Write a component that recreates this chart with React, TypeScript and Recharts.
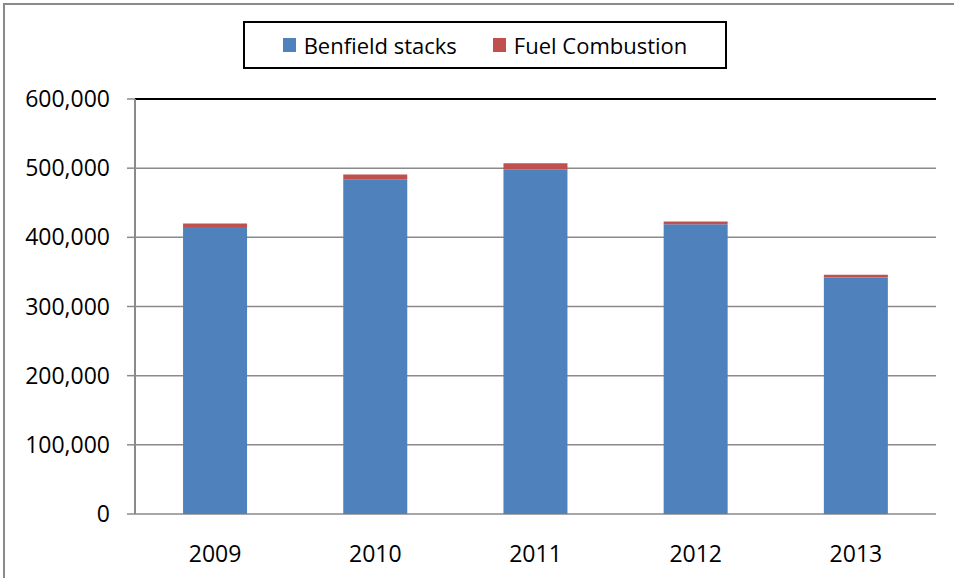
import { Bar, BarChart, CartesianGrid, Legend, ReferenceLine, XAxis, YAxis } from "recharts";

const years = ["2009", "2010", "2011", "2012", "2013"];
const benfieldStacks = [415000, 484000, 498500, 419000, 342000];
const fuelCombustion = [5000, 6800, 8500, 3800, 3800];
const yTicks = [0, 100000, 200000, 300000, 400000, 500000, 600000];
const edgeTicks = [0, 1, 2, 3, 4, 5];

const data = years.map((year, i) => ({
  year,
  benfield: benfieldStacks[i],
  fuel: fuelCombustion[i],
}));

const FONT = "'Open Sans', 'Noto Sans', sans-serif";

const renderLegend = (props: any) => {
  const { payload } = props;
  return (
    <div
      style={{
        display: "flex",
        justifyContent: "center",
        alignItems: "center",
        height: "100%",
        fontFamily: FONT,
        fontSize: 22,
        color: "#000",
      }}
    >
      {payload.map((entry: any, i: number) => (
        <div
          key={entry.value}
          style={{ display: "flex", alignItems: "center", marginLeft: i ? 36 : 0 }}
        >
          <span
            style={{
              display: "inline-block",
              width: 13,
              height: 14,
              background: entry.color,
              marginRight: 8,
            }}
          />
          <span>{entry.value}</span>
        </div>
      ))}
    </div>
  );
};

const App = () => {
  return (
    <div
      style={{
        position: "absolute",
        left: 0,
        top: 0,
        width: 954,
        height: 578,
        overflow: "hidden",
        background: "#fff",
      }}
    >
      <div
        style={{
          position: "absolute",
          left: 3,
          top: 3,
          width: 980,
          height: 620,
          border: "2px solid #8a8a8a",
        }}
      />
      <BarChart
        width={954}
        height={578}
        data={data}
        margin={{ top: 99, right: 18, bottom: 0, left: 0 }}
        barCategoryGap="30%"
        style={{ position: "absolute", left: 0, top: 0 }}
      >
        <CartesianGrid vertical={false} stroke="#8a8a8a" strokeWidth={1.5} />
        <XAxis
          xAxisId="edges"
          type="number"
          domain={[0, 5]}
          ticks={edgeTicks}
          height={0}
          tick={false}
          tickSize={8}
          tickLine={{ stroke: "#8a8a8a", strokeWidth: 1.5 }}
          axisLine={{ stroke: "#8a8a8a", strokeWidth: 2 }}
          allowDataOverflow
        />
        <XAxis
          dataKey="year"
          height={64}
          tickLine={false}
          axisLine={false}
          tickMargin={26}
          tick={{ fill: "#000", fontSize: 23, fontFamily: FONT }}
        />
        <YAxis
          width={135}
          domain={[0, 600000]}
          ticks={yTicks}
          interval={0}
          tickSize={8}
          tickMargin={17}
          tickFormatter={(v: number) => v.toLocaleString("en-US")}
          tickLine={{ stroke: "#8a8a8a", strokeWidth: 1.5 }}
          axisLine={{ stroke: "#8a8a8a", strokeWidth: 2 }}
          tick={{ fill: "#000", fontSize: 23, fontFamily: FONT }}
        />
        <ReferenceLine y={600000} stroke="#000" strokeWidth={2} />
        <ReferenceLine x={5} xAxisId="edges" stroke="#000" strokeWidth={2} />
        <Legend
          layout="horizontal"
          verticalAlign="middle"
          align="center"
          content={renderLegend}
          wrapperStyle={{
            position: "absolute",
            left: 243,
            top: 21,
            width: 484,
            height: 48,
            border: "2px solid #000",
            boxSizing: "border-box",
            background: "#fff",
          }}
        />
        <Bar
          dataKey="benfield"
          name="Benfield stacks"
          stackId="a"
          fill="#4F81BD"
          isAnimationActive={false}
        />
        <Bar
          dataKey="fuel"
          name="Fuel Combustion"
          stackId="a"
          fill="#C0504D"
          isAnimationActive={false}
        />
      </BarChart>
    </div>
  );
};

export default App;
